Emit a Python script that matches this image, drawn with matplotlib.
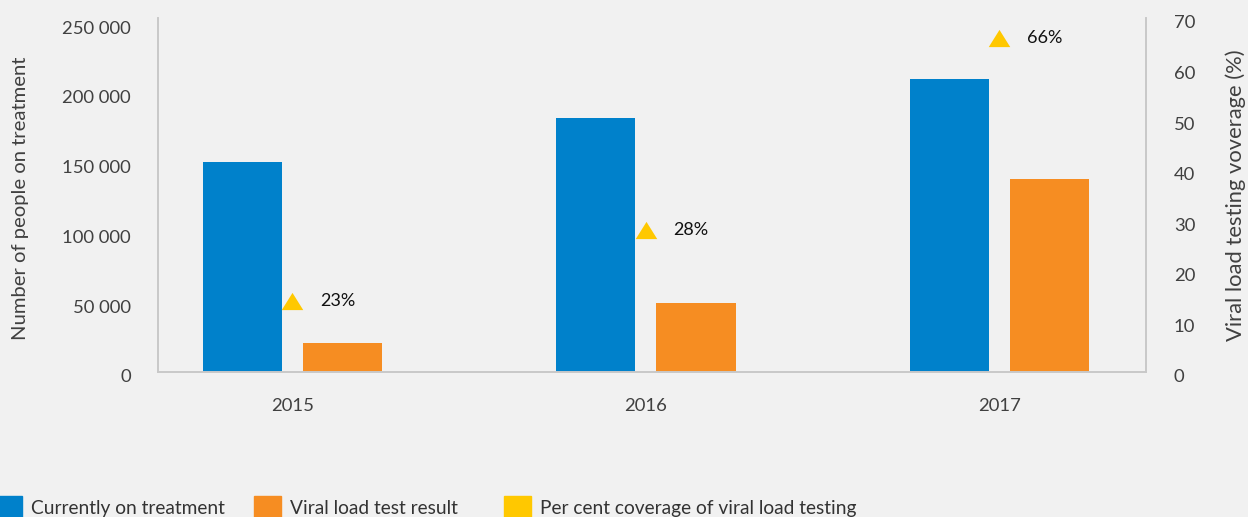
import matplotlib.pyplot as plt
import matplotlib.transforms as mtransforms
import numpy as np
from matplotlib.patches import Patch

years = ["2015", "2016", "2017"]
on_treatment = [150500, 182000, 210000]
vl_tested = [21000, 49500, 138000]
coverage_pos = [14, 28, 66]   # where the markers sit in the picture
coverage_labels = ["23%", "28%", "66%"]

blue = "#0081CB"
orange = "#F68D22"
yellow = "#FFC800"
bg = "#F1F1F1"
grey = "#C8C8C8"
txt = "#404040"

plt.rcParams['font.family'] = ['Lato', 'DejaVu Sans']

fig = plt.figure(figsize=(12.48, 5.17), dpi=100, facecolor=bg)
ax = fig.add_axes([0.1266, 0.2805, 0.7917, 0.6847])
ax.set_facecolor(bg)

x = np.arange(len(years))
w = 0.224
ax.bar(x - 0.142, on_treatment, w, color=blue)
ax.bar(x + 0.142, vl_tested, w, color=orange)
ax.set_xlim(-0.38, 2.415)
ax.set_ylim(0, 253600)
ax.set_yticks(np.arange(0, 250001, 50000))
ax.set_yticklabels([f"{v:,}".replace(",", " ") for v in range(0, 250001, 50000)])
ax.set_xticks(x)
ax.set_xticklabels(years)
ax.set_ylabel("Number of people on treatment", fontsize=14.6, color=txt)
ax.yaxis.set_label_coords(-0.1395, 0.49)
ax.yaxis.label.set_verticalalignment("center")

ax2 = ax.twinx()
tri = [(-1, -0.8), (1, -0.8), (0, 0.8)]
ax2.plot(x, coverage_pos, linestyle="none", marker=tri, markersize=15.5,
         color=yellow, markeredgewidth=0)
for xi, yi, lab in zip(x, coverage_pos, coverage_labels):
    ax2.annotate(lab, (xi, yi), xytext=(20, 0), textcoords="offset points",
                 ha="left", va="center", fontsize=13, color="#111111")
ax2.set_ylim(0, 70)
ax2.set_yticks(range(0, 71, 10))
ax2.set_ylabel("Viral load testing voverage (%)", fontsize=15.8, color=txt)
ax2.yaxis.set_label_coords(1.0904, 0.5)
ax2.yaxis.label.set_verticalalignment("center")

for a in (ax, ax2):
    a.spines["top"].set_visible(False)
    for s in ("left", "right", "bottom"):
        a.spines[s].set_color(grey)
        a.spines[s].set_linewidth(1.2)
    a.tick_params(length=0, labelsize=13.3, labelcolor=txt)
ax.tick_params(axis="y", pad=19.5)
ax.tick_params(axis="x", pad=18.5)
ax2.tick_params(axis="y", pad=20)

# y tick labels sit a few pixels below their ticks in the original
shift = mtransforms.ScaledTranslation(0, -0.04, fig.dpi_scale_trans)
for a in (ax, ax2):
    for lbl in a.get_yticklabels():
        lbl.set_transform(lbl.get_transform() + shift)

# legend items sit at uneven spacing in the original, so one legend each
legend_colors = [blue, orange, yellow]
legend_labels = ["Currently on treatment", "Viral load test result",
                 "Per cent coverage of viral load testing"]
legend_x = [-0.0102, 0.1974, 0.3977]
for c, lab, lx in zip(legend_colors, legend_labels, legend_x):
    fig.legend([Patch(color=c)], [lab], loc="upper left",
               bbox_to_anchor=(lx, 0.055), frameon=False, fontsize=13.8,
               handlelength=1.41, handleheight=1.41, handletextpad=0.47,
               labelcolor="#333333", borderaxespad=0)

fig.savefig("out.png", dpi=100, facecolor=bg)
